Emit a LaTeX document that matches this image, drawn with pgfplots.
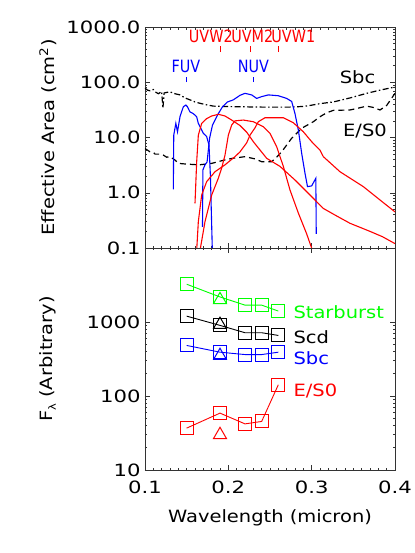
\documentclass[border=0pt]{standalone}
\usepackage{pgfplots}
\pgfplotsset{compat=1.18}
\usepackage{fontspec}
\setmainfont{DejaVu Sans}[FakeStretch=1.15]
\newfontfamily\capfont{DejaVu Sans}[FakeStretch=0.85]
\newfontfamily\tickfont{DejaVu Sans}[FakeStretch=1.25]
\begin{document}
\begin{tikzpicture}
\useasboundingbox (-145bp,-83bp) rectangle (270bp,470bp);
\pgfplotsset{
  every axis/.append style={
    scale only axis, width=250bp,
    xmin=0.1, xmax=0.4,
    xtick={0.1,0.2,0.3,0.4},
    minor x tick num=9,
    tick style={black!80, line width=0.5bp},
    major tick length=5bp, minor tick length=2.5bp,
    axis line style={black!80, line width=0.7bp},
    tick label style={font=\tickfont\fontsize{17}{17}\selectfont},
    xticklabel style={yshift=-7bp},
    yticklabel style={xshift=-1bp},
    label style={font=\fontsize{17}{17}\selectfont},
    /pgf/number format/assume math mode=true,
    ymode=log,
  },
}
% ---------------- top panel ----------------
\begin{axis}[at={(0,222bp)}, anchor=south west, height=221bp,
  ymin=0.1, ymax=1000,
  ytick={0.1,1,10,100,1000},
  yticklabels={0.1,1.0,10.0,100.0,1000.0},
  xticklabels=\empty,
  ylabel={Effective Area (cm\textsuperscript{2})},
  ylabel style={at={(axis description cs:-0.388,0.5)}, anchor=center},
]
% Sbc template (dash-dot)
\addplot[black, line width=1.2bp, dash pattern=on 6bp off 2.5bp on 1.5bp off 2.5bp] coordinates {
(0.100,78) (0.103,72) (0.106,70) (0.110,74) (0.113,66) (0.116,62) (0.120,68) (0.1215,34) (0.123,64) (0.127,66) (0.130,67) (0.136,62) (0.142,59) (0.148,52) (0.154,48) (0.160,44) (0.166,41.6) (0.174,39) (0.182,37) (0.200,36.3) (0.214,36) (0.240,35.5) (0.274,35.5) (0.290,36.5) (0.298,38) (0.310,41) (0.326,44) (0.346,52) (0.366,63) (0.382,72) (0.400,82)};
% E/S0 template (dashed)
\addplot[black, line width=1.2bp, dash pattern=on 6bp off 4bp] coordinates {
(0.100,6.3) (0.103,5.9) (0.106,5.5) (0.110,5.4) (0.112,5.0) (0.118,5.0) (0.122,4.8) (0.126,4.4) (0.130,4.5) (0.136,3.9) (0.140,3.4) (0.150,3.3) (0.165,3.2) (0.180,3.4) (0.195,3.9) (0.205,4.2) (0.220,4.5) (0.232,4.1) (0.240,3.65) (0.252,3.65) (0.258,4.4) (0.264,5.5) (0.276,9.7) (0.288,14.7) (0.302,19.3) (0.310,23.8) (0.318,28) (0.326,31) (0.346,31.5) (0.356,34) (0.366,37) (0.374,35) (0.382,31.5) (0.390,38) (0.400,63)};
% FUV
\addplot[blue, line width=1.1bp] coordinates {
(0.134,1.15) (0.1345,11) (0.137,18) (0.139,12.7) (0.142,23.8) (0.146,36) (0.149,38.7) (0.151,36) (0.153,31) (0.154,29) (0.156,28) (0.158,27) (0.162,23.8) (0.164,18) (0.168,13.7) (0.170,11.9) (0.174,10.4) (0.1768,7.3) (0.1785,2) (0.1808,0.09)};
% NUV
\addplot[blue, line width=1.1bp] coordinates {
(0.169,0.24) (0.1695,2.6) (0.172,3.2) (0.1745,3.6) (0.1775,9.7) (0.181,16.8) (0.187,25.5) (0.193,36) (0.199,44) (0.206,48) (0.214,58) (0.220,63) (0.228,59) (0.234,51) (0.240,55) (0.248,59) (0.260,57) (0.270,51) (0.276,45) (0.280,27) (0.284,13.7) (0.288,5.2) (0.292,2.25) (0.295,1.29) (0.300,1.33) (0.305,1.83) (0.3055,0.18)};
% UVW2
\addplot[red, line width=1.1bp] coordinates {
(0.160,0.64) (0.162,3.6) (0.164,11) (0.168,18) (0.174,22) (0.180,24.5) (0.188,26.3) (0.196,24.5) (0.204,20.7) (0.214,16.5) (0.222,12.5) (0.230,8.4) (0.246,4.2) (0.262,3.0) (0.280,1.7) (0.300,0.85) (0.314,0.52) (0.330,0.38) (0.346,0.28) (0.370,0.20) (0.385,0.16) (0.400,0.12)};
% UVM2
\addplot[red, line width=1.1bp] coordinates {
(0.166,0.09) (0.172,0.3) (0.180,0.91) (0.188,1.83) (0.192,2.8) (0.196,4.8) (0.200,11) (0.204,16.8) (0.208,20) (0.218,20.7) (0.230,19.3) (0.242,15.7) (0.250,11.9) (0.258,6.8) (0.266,3.0) (0.274,1.12) (0.284,0.43) (0.294,0.18) (0.301,0.09)};
% UVW1
\addplot[red, line width=1.1bp] coordinates {
(0.162,0.09) (0.164,0.3) (0.168,0.91) (0.174,1.59) (0.184,2.4) (0.196,3.2) (0.208,4.5) (0.214,5.5) (0.222,8) (0.226,11) (0.232,15) (0.236,19.3) (0.244,22.8) (0.266,22.8) (0.278,18.5) (0.290,12.7) (0.300,8.4) (0.310,5.9) (0.314,4.5) (0.334,2.4) (0.362,1.29) (0.382,0.74) (0.400,0.45)};
% filter markers
\addplot[red, line width=0.9bp] coordinates {(0.190,352) (0.190,453)};
\addplot[red, line width=0.9bp] coordinates {(0.226,352) (0.226,453)};
\addplot[red, line width=0.9bp] coordinates {(0.260,352) (0.260,453)};
\addplot[blue, line width=0.9bp] coordinates {(0.150,101) (0.150,124)};
\addplot[blue, line width=0.9bp] coordinates {(0.230,101) (0.230,124)};
\node[red, font=\capfont\fontsize{17}{17}\selectfont] at (axis cs:0.179,687) {UVW2};
\node[red, font=\capfont\fontsize{17}{17}\selectfont] at (axis cs:0.2288,687) {UVM2};
\node[red, font=\capfont\fontsize{17}{17}\selectfont] at (axis cs:0.278,687) {UVW1};
\node[blue, font=\capfont\fontsize{17}{17}\selectfont] at (axis cs:0.149,197) {FUV};
\node[blue, font=\capfont\fontsize{17}{17}\selectfont] at (axis cs:0.230,197) {NUV};
\node[font=\fontsize{17}{17}\selectfont] at (axis cs:0.355,124) {Sbc};
\node[font=\fontsize{17}{17}\selectfont] at (axis cs:0.364,12.9) {E/S0};
\end{axis}
% ---------------- bottom panel ----------------
\begin{axis}[at={(0,0)}, anchor=south west, height=222bp,
  ymin=10, ymax=10000,
  ytick={10,100,1000},
  yticklabels={10,100,1000},
  xticklabels={0.1,0.2,0.3,0.4},
  xlabel={Wavelength (micron)},
  xlabel style={at={(axis description cs:0.5,-0.216)}, anchor=center},
  ylabel={F\raisebox{-0.35ex}{\fontsize{10}{10}\selectfont λ} (Arbitrary)},
  ylabel style={at={(axis description cs:-0.388,0.5)}, anchor=center},
]
\addplot[green, line width=0.9bp, mark=square, mark size=6.5bp, mark options={solid, line width=1bp}] coordinates {
(0.150,3240) (0.190,2180) (0.220,1690) (0.240,1690) (0.260,1405)};
\addplot[black, line width=0.9bp, mark=square, mark size=6.5bp, mark options={solid, line width=1bp}] coordinates {
(0.150,1200) (0.190,900) (0.220,716) (0.240,716) (0.260,658)};
\addplot[blue, line width=0.9bp, mark=square, mark size=6.5bp, mark options={solid, line width=1bp}] coordinates {
(0.150,482) (0.190,391) (0.220,363) (0.240,363) (0.260,391)};
\addplot[red, line width=0.9bp, mark=square, mark size=6.5bp, mark options={solid, line width=1bp}] coordinates {
(0.150,36.8) (0.190,58.7) (0.220,42) (0.240,45.3) (0.260,142)};
\addplot[only marks, green, mark=triangle, mark size=7.5bp, mark options={line width=1bp}] coordinates {(0.190,1990)};
\addplot[only marks, black, mark=triangle, mark size=7.5bp, mark options={line width=1bp}] coordinates {(0.190,920)};
\addplot[only marks, blue, mark=triangle, mark size=7.5bp, mark options={line width=1bp}] coordinates {(0.190,350)};
\addplot[only marks, red, mark=triangle, mark size=7.5bp, mark options={line width=1bp}] coordinates {(0.190,29.9)};
\node[green, anchor=west, font=\fontsize{17}{17}\selectfont] at (axis cs:0.274,1340) {Starburst};
\node[black, anchor=west, font=\fontsize{17}{17}\selectfont] at (axis cs:0.274,630) {Scd};
\node[blue, anchor=west, font=\fontsize{17}{17}\selectfont] at (axis cs:0.274,320) {Sbc};
\node[red, anchor=west, font=\fontsize{17}{17}\selectfont] at (axis cs:0.274,116) {E/S0};
\end{axis}
\end{tikzpicture}
\end{document}
